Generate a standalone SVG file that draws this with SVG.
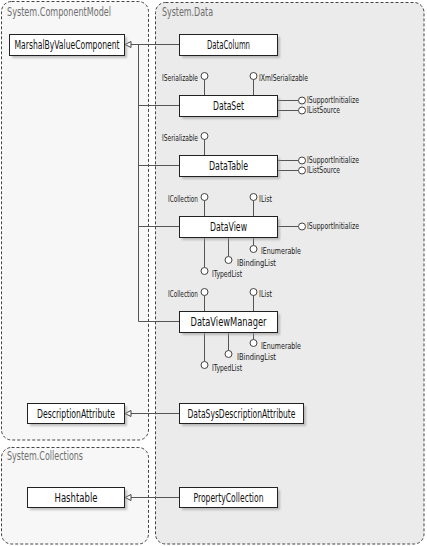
<svg xmlns="http://www.w3.org/2000/svg" width="427" height="546" viewBox="0 0 427 546">
<defs>
<style>
.pkg{stroke:#444;stroke-width:1;stroke-dasharray:3,2}
.ptitle{font-family:"Liberation Sans Narrow","DejaVu Sans Condensed","Liberation Sans",sans-serif;font-size:12px;fill:#6e6e6e}
.box{fill:#fff;stroke:#222;stroke-width:1}
.shadow{fill:#999;opacity:0.6;filter:url(#blur)}
.lbl{font-family:"Liberation Sans Narrow","DejaVu Sans Condensed","Liberation Sans",sans-serif;font-size:11.5px;fill:#111;text-anchor:middle}
.ilbl{font-family:"Liberation Sans Narrow","DejaVu Sans Condensed","Liberation Sans",sans-serif;font-size:8.5px;fill:#1a1a1a}
.ln{stroke:#555;stroke-width:1;fill:none}
.lol{fill:#fff;stroke:#444;stroke-width:1}
.tri{fill:#fff;stroke:#444;stroke-width:1}
</style>
<filter id="blur" x="-10%" y="-30%" width="120%" height="160%"><feGaussianBlur stdDeviation="1.2"/></filter>
</defs>

<g id="pkg-componentmodel">
<rect class="pkg" x="1.5" y="1.5" width="147" height="438.5" rx="10" fill="#f7f7f7"/>
<text class="ptitle" x="7" y="16" textLength="104" lengthAdjust="spacingAndGlyphs">System.ComponentModel</text>
</g>
<g id="pkg-collections">
<rect class="pkg" x="1.5" y="447.5" width="147" height="96.5" rx="10" fill="#f7f7f7"/>
<text class="ptitle" x="7" y="460" textLength="76" lengthAdjust="spacingAndGlyphs">System.Collections</text>
</g>
<g id="pkg-data">
<rect class="pkg" x="155.5" y="2.5" width="268.5" height="541.5" rx="10" fill="#ebebeb"/>
<text class="ptitle" x="162" y="16" textLength="51" lengthAdjust="spacingAndGlyphs">System.Data</text>
</g>

<g id="connectors">
<line class="ln" x1="131" y1="44.5" x2="179" y2="44.5"/>
<line class="ln" x1="138.5" y1="44.5" x2="138.5" y2="321.5"/>
<line class="ln" x1="138.5" y1="105.5" x2="179" y2="105.5"/>
<line class="ln" x1="138.5" y1="165.5" x2="179" y2="165.5"/>
<line class="ln" x1="138.5" y1="226.5" x2="179" y2="226.5"/>
<line class="ln" x1="138.5" y1="321.5" x2="179" y2="321.5"/>
<polygon class="tri" points="125,44.5 131,41.5 131,47.5"/>
<line class="ln" x1="131" y1="413.5" x2="179" y2="413.5"/>
<polygon class="tri" points="125,413.5 131,410.5 131,416.5"/>
<line class="ln" x1="131" y1="497.5" x2="179" y2="497.5"/>
<polygon class="tri" points="125,497.5 131,494.5 131,500.5"/>
</g>

<g id="MarshalByValueComponent">
<rect class="shadow" x="12" y="37" width="115" height="21"/>
<rect class="box" x="9.5" y="34.5" width="115" height="21"/>
<text class="lbl" x="67" y="49" textLength="105" lengthAdjust="spacingAndGlyphs">MarshalByValueComponent</text>
</g>

<g id="DataColumn">
<rect class="shadow" x="182" y="37" width="98" height="21"/>
<rect class="box" x="179.5" y="34.5" width="98" height="21"/>
<text class="lbl" x="228.5" y="49" textLength="43" lengthAdjust="spacingAndGlyphs">DataColumn</text>
</g>

<g id="DataSet">
<line class="ln" x1="204.5" y1="79" x2="204.5" y2="95"/>
<circle class="lol" cx="204.5" cy="76" r="3.5"/>
<text class="ilbl" x="198" y="81" text-anchor="end" textLength="36" lengthAdjust="spacingAndGlyphs">ISerializable</text>
<line class="ln" x1="253.5" y1="79" x2="253.5" y2="95"/>
<circle class="lol" cx="253.5" cy="76" r="3.5"/>
<text class="ilbl" x="259" y="81" textLength="49" lengthAdjust="spacingAndGlyphs">IXmlSerializable</text>
<line class="ln" x1="277" y1="100.5" x2="298.5" y2="100.5"/>
<circle class="lol" cx="302" cy="100.5" r="3.5"/>
<text class="ilbl" x="307" y="103" textLength="52" lengthAdjust="spacingAndGlyphs">ISupportInitialize</text>
<line class="ln" x1="277" y1="110.5" x2="298.5" y2="110.5"/>
<circle class="lol" cx="302" cy="110.5" r="3.5"/>
<text class="ilbl" x="307" y="113" textLength="33" lengthAdjust="spacingAndGlyphs">IListSource</text>
<rect class="shadow" x="182" y="98" width="98" height="21"/>
<rect class="box" x="179.5" y="95.5" width="98" height="21"/>
<text class="lbl" x="228.5" y="110" textLength="31" lengthAdjust="spacingAndGlyphs">DataSet</text>
</g>

<g id="DataTable">
<line class="ln" x1="204.5" y1="139" x2="204.5" y2="155"/>
<circle class="lol" cx="204.5" cy="136" r="3.5"/>
<text class="ilbl" x="198" y="141" text-anchor="end" textLength="36" lengthAdjust="spacingAndGlyphs">ISerializable</text>
<line class="ln" x1="277" y1="160.5" x2="298.5" y2="160.5"/>
<circle class="lol" cx="302" cy="160.5" r="3.5"/>
<text class="ilbl" x="307" y="163" textLength="52" lengthAdjust="spacingAndGlyphs">ISupportInitialize</text>
<line class="ln" x1="277" y1="170.5" x2="298.5" y2="170.5"/>
<circle class="lol" cx="302" cy="170.5" r="3.5"/>
<text class="ilbl" x="307" y="173" textLength="33" lengthAdjust="spacingAndGlyphs">IListSource</text>
<rect class="shadow" x="182" y="158" width="98" height="21"/>
<rect class="box" x="179.5" y="155.5" width="98" height="21"/>
<text class="lbl" x="228.5" y="170" textLength="39" lengthAdjust="spacingAndGlyphs">DataTable</text>
</g>

<g id="DataView">
<line class="ln" x1="204.5" y1="200" x2="204.5" y2="216"/>
<circle class="lol" cx="204.5" cy="197" r="3.5"/>
<text class="ilbl" x="198" y="202" text-anchor="end" textLength="30" lengthAdjust="spacingAndGlyphs">ICollection</text>
<line class="ln" x1="253.5" y1="200" x2="253.5" y2="216"/>
<circle class="lol" cx="253.5" cy="197" r="3.5"/>
<text class="ilbl" x="259" y="202" textLength="13" lengthAdjust="spacingAndGlyphs">IList</text>
<line class="ln" x1="277" y1="226.5" x2="298.5" y2="226.5"/>
<circle class="lol" cx="302" cy="226.5" r="3.5"/>
<text class="ilbl" x="307" y="229" textLength="52" lengthAdjust="spacingAndGlyphs">ISupportInitialize</text>
<line class="ln" x1="253.5" y1="237" x2="253.5" y2="245.5"/>
<circle class="lol" cx="253.5" cy="249" r="3.5"/>
<text class="ilbl" x="261" y="254" textLength="40" lengthAdjust="spacingAndGlyphs">IEnumerable</text>
<line class="ln" x1="228.5" y1="237" x2="228.5" y2="256.5"/>
<circle class="lol" cx="228.5" cy="260" r="3.5"/>
<text class="ilbl" x="237" y="266" textLength="39" lengthAdjust="spacingAndGlyphs">IBindingList</text>
<line class="ln" x1="204.5" y1="237" x2="204.5" y2="267.5"/>
<circle class="lol" cx="204.5" cy="271" r="3.5"/>
<text class="ilbl" x="212" y="277" textLength="30" lengthAdjust="spacingAndGlyphs">ITypedList</text>
<rect class="shadow" x="182" y="219" width="98" height="21"/>
<rect class="box" x="179.5" y="216.5" width="98" height="21"/>
<text class="lbl" x="228.5" y="231" textLength="37" lengthAdjust="spacingAndGlyphs">DataView</text>
</g>

<g id="DataViewManager">
<line class="ln" x1="204.5" y1="295" x2="204.5" y2="311"/>
<circle class="lol" cx="204.5" cy="292" r="3.5"/>
<text class="ilbl" x="198" y="297" text-anchor="end" textLength="30" lengthAdjust="spacingAndGlyphs">ICollection</text>
<line class="ln" x1="253.5" y1="295" x2="253.5" y2="311"/>
<circle class="lol" cx="253.5" cy="292" r="3.5"/>
<text class="ilbl" x="259" y="297" textLength="13" lengthAdjust="spacingAndGlyphs">IList</text>
<line class="ln" x1="253.5" y1="332" x2="253.5" y2="339.5"/>
<circle class="lol" cx="253.5" cy="343" r="3.5"/>
<text class="ilbl" x="261" y="349" textLength="40" lengthAdjust="spacingAndGlyphs">IEnumerable</text>
<line class="ln" x1="228.5" y1="332" x2="228.5" y2="350.5"/>
<circle class="lol" cx="228.5" cy="354" r="3.5"/>
<text class="ilbl" x="237" y="360" textLength="39" lengthAdjust="spacingAndGlyphs">IBindingList</text>
<line class="ln" x1="204.5" y1="332" x2="204.5" y2="361.5"/>
<circle class="lol" cx="204.5" cy="365" r="3.5"/>
<text class="ilbl" x="212" y="371" textLength="30" lengthAdjust="spacingAndGlyphs">ITypedList</text>
<rect class="shadow" x="182" y="314" width="98" height="21"/>
<rect class="box" x="179.5" y="311.5" width="98" height="21"/>
<text class="lbl" x="228.5" y="326" textLength="76" lengthAdjust="spacingAndGlyphs">DataViewManager</text>
</g>

<g id="DescriptionAttribute">
<rect class="shadow" x="30" y="406" width="97" height="20"/>
<rect class="box" x="27.5" y="403.5" width="97" height="20"/>
<text class="lbl" x="76" y="417.5" textLength="78" lengthAdjust="spacingAndGlyphs">DescriptionAttribute</text>
</g>

<g id="DataSysDescriptionAttribute">
<rect class="shadow" x="182" y="406" width="124" height="20"/>
<rect class="box" x="179.5" y="403.5" width="124" height="20"/>
<text class="lbl" x="241.5" y="417.5" textLength="108" lengthAdjust="spacingAndGlyphs">DataSysDescriptionAttribute</text>
</g>

<g id="Hashtable">
<rect class="shadow" x="30" y="490" width="97" height="20"/>
<rect class="box" x="27.5" y="487.5" width="97" height="20"/>
<text class="lbl" x="76" y="501.5" textLength="43" lengthAdjust="spacingAndGlyphs">Hashtable</text>
</g>

<g id="PropertyCollection">
<rect class="shadow" x="182" y="490" width="98" height="20"/>
<rect class="box" x="179.5" y="487.5" width="98" height="20"/>
<text class="lbl" x="228.5" y="501.5" textLength="70" lengthAdjust="spacingAndGlyphs">PropertyCollection</text>
</g>
</svg>
